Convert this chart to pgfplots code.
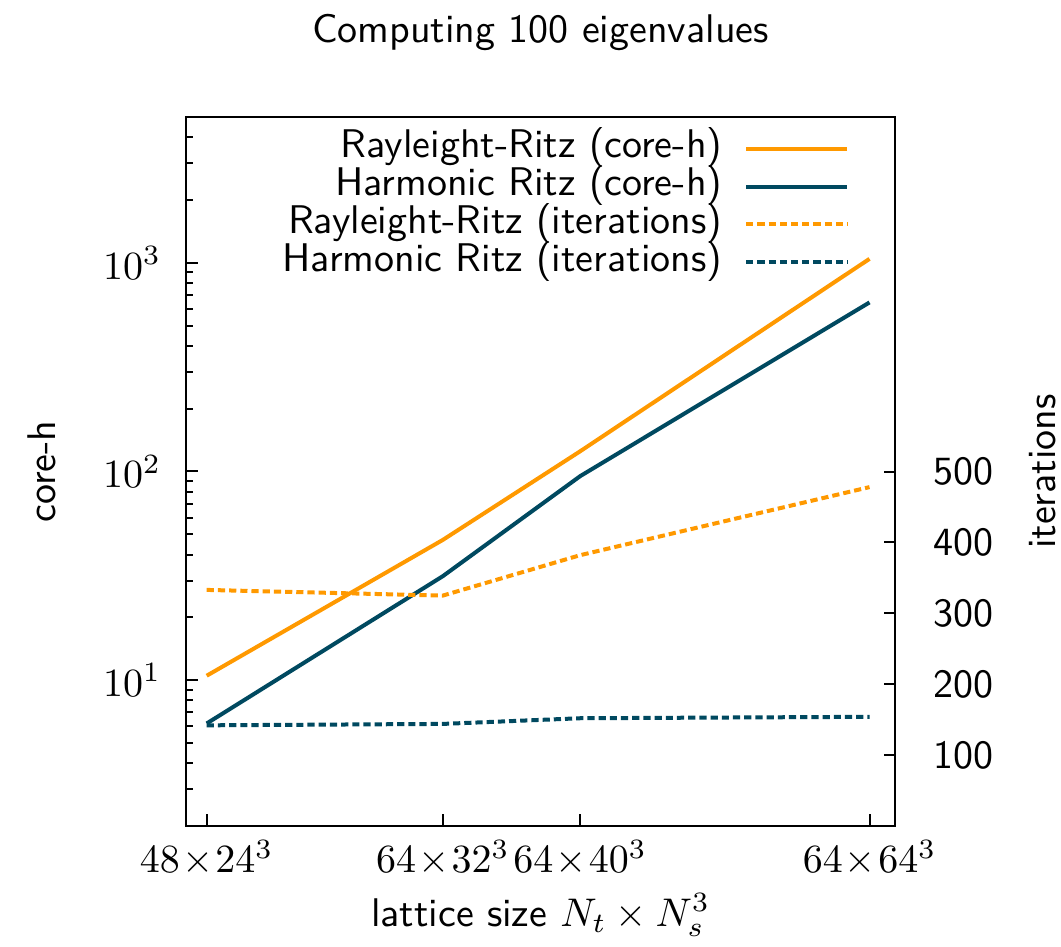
\documentclass[border=0pt]{standalone}
\usepackage{pgfplots}
\pgfplotsset{compat=1.18}
\definecolor{rrorange}{RGB}{255,153,0}
\definecolor{hrblue}{RGB}{0,73,96}

\begin{document}
\begin{tikzpicture}
\useasboundingbox (0,0) rectangle (265.25pt,236.5pt);
\begin{axis}[
  at={(46.5pt,30pt)}, anchor=south west,
  scale only axis, width=177.25pt, height=177.25pt,
  xmode=log, xmin=6e5, xmax=1.9e7,
  xtick={663552,2097152,4096000,16777216},
  tick align=inside,
  major tick length=2.9pt, minor tick length=1.75pt,
  every tick/.style={line width=0.5pt, black},
  axis line style={line width=0.7pt},
  ymode=log, ymin=2, ymax=5000,
  ytick={10,100,1000},
  minor ytick={2,3,4,5,6,7,8,9,20,30,40,50,60,70,80,90,200,300,400,500,600,700,800,900,2000,3000,4000,5000},
  tick pos=left,
  xticklabels={$48\!\times\!24^3$,$64\!\times\!32^3$,$64\!\times\!40^3$,$64\!\times\!64^3$},
  yticklabel style={xshift=-2.7pt},
  xlabel={\sffamily lattice size $N_t \times N_s^3$},
  xlabel style={at={([yshift=-22.25pt]axis description cs:0.5,0)}, anchor=center},
  ylabel={\sffamily core-h},
  ylabel style={at={([xshift=-36pt]axis description cs:0,0.5)}, anchor=center},
  title={\sffamily Computing 100 eigenvalues},
  title style={at={([yshift=15pt]axis description cs:0.5,1)}, anchor=center},
]
\addplot[rrorange, line width=1pt] coordinates {
  (663552,10.5) (2097152,47) (4096000,125) (16777216,1045)
};
\addplot[hrblue, line width=1pt] coordinates {
  (663552,6.2) (2097152,31.5) (4096000,95) (16777216,646)
};
\end{axis}
\begin{axis}[
  at={(46.5pt,30pt)}, anchor=south west,
  scale only axis, width=177.25pt, height=177.25pt,
  xmode=log, xmin=6e5, xmax=1.9e7,
  tick align=inside,
  major tick length=2.9pt,
  every tick/.style={line width=0.5pt, black},
  axis line style={line width=0.7pt},
  axis x line=none, axis y line*=right,
  ymin=0, ymax=1000,
  ytick={100,200,300,400,500},
  yticklabels={100,200,300,400,500},
  yticklabel style={font=\sffamily, xshift=6pt},
  ylabel={\sffamily iterations},
  ylabel style={at={([xshift=37pt]axis description cs:1,0.5)}, anchor=center},
  legend plot pos=right,
  legend cell align=right,
  legend image code/.code={\draw[#1] (0pt,0pt) -- (25.25pt,0pt);},
  legend style={at={(1,1)}, anchor=north east, xshift=-11.25pt, yshift=-3pt,
    draw=none, fill=none, inner sep=0pt, font=\sffamily,
    row sep=0pt, column sep=5.5pt,
    nodes={inner sep=0pt, text height=6.95pt, text depth=2.5pt}},
]
\addlegendimage{rrorange, line width=1pt}
\addlegendentry{Rayleight-Ritz (core-h)}
\addlegendimage{hrblue, line width=1pt}
\addlegendentry{Harmonic Ritz (core-h)}
\addplot[rrorange, line width=1pt, dash pattern=on 1.8pt off 1pt] coordinates {
  (663552,333) (2097152,325) (4096000,382) (16777216,478)
};
\addlegendentry{Rayleight-Ritz (iterations)}
\addplot[hrblue, line width=1pt, dash pattern=on 1.8pt off 1pt] coordinates {
  (663552,142) (2097152,144) (4096000,152) (16777216,154)
};
\addlegendentry{Harmonic Ritz (iterations)}
\end{axis}
\end{tikzpicture}
\end{document}
